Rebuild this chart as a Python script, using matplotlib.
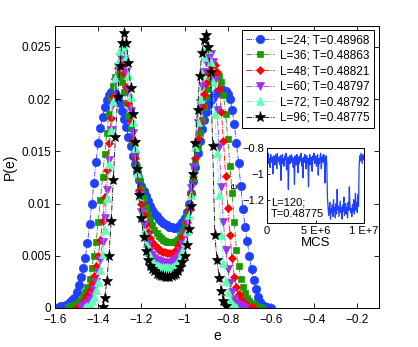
import numpy as np
import matplotlib
matplotlib.use('Agg')
import matplotlib.pyplot as plt

plt.rcParams['font.family'] = ['Liberation Sans', 'DejaVu Sans']

# energy grid (e per site), shared by all curves
e_grid = [-1.60, -1.59, -1.58, -1.57, -1.56, -1.55, -1.54, -1.53, -1.52, -1.51,
          -1.50, -1.49, -1.48, -1.47, -1.46, -1.45, -1.44, -1.43, -1.42, -1.41,
          -1.40, -1.39, -1.38, -1.37, -1.36, -1.35, -1.34, -1.33, -1.32, -1.31,
          -1.30, -1.29, -1.28, -1.27, -1.26, -1.25, -1.24, -1.23, -1.22, -1.21,
          -1.20, -1.19, -1.18, -1.17, -1.16, -1.15, -1.14, -1.13, -1.12, -1.11,
          -1.10, -1.09, -1.08, -1.07, -1.06, -1.05, -1.04, -1.03, -1.02, -1.01,
          -1.00, -0.99, -0.98, -0.97, -0.96, -0.95, -0.94, -0.93, -0.92, -0.91,
          -0.90, -0.89, -0.88, -0.87, -0.86, -0.85, -0.84, -0.83, -0.82, -0.81,
          -0.80, -0.79, -0.78, -0.77, -0.76, -0.75, -0.74, -0.73, -0.72, -0.71,
          -0.70, -0.69, -0.68, -0.67, -0.66, -0.65, -0.64, -0.63, -0.62, -0.61,
          -0.60, -0.59, -0.58]

# P(e) in units of 1e-3, each starting at e_start
start_24 = -1.58
p_24 = [0.1, 0.15, 0.2, 0.3, 0.4, 0.55, 0.75, 1.0, 1.5, 2.2,
        3.0, 3.8, 4.8, 6.2, 8.0, 10.0, 12.0, 14.0, 15.8, 17.2,
        18.3, 19.2, 19.9, 20.4, 20.7, 20.8, 20.6, 20.2, 19.6, 18.9,
        18.1, 17.3, 16.4, 15.5, 14.6, 13.8, 13.0, 12.3, 11.7, 11.2,
        10.7, 10.2, 9.8, 9.4, 9.1, 8.8, 8.5, 8.3, 8.1, 8.0,
        7.9, 7.8, 7.8, 7.7, 7.7, 7.8, 7.9, 8.2, 8.6, 9.2,
        10.0, 11.0, 12.2, 13.5, 14.8, 16.0, 17.1, 18.0, 18.8, 19.4,
        19.9, 20.2, 20.5, 20.7, 20.8, 20.9, 20.9, 20.8, 20.5, 20.0,
        19.0, 17.6, 15.8, 13.9, 11.7, 9.5, 7.8, 6.4, 5.0, 3.7,
        2.7, 1.8, 1.1, 0.6, 0.3, 0.15, 0.07, 0.03, 0.01]

start_36 = -1.54
p_36 = [0.1, 0.15, 0.2, 0.3, 0.45, 0.6, 0.8, 1.1, 1.5, 2.0,
        2.8, 3.8, 5.0, 6.3, 8.2, 10.3, 12.5, 14.7, 16.8, 18.6,
        20.1, 21.3, 22.1, 22.4, 22.2, 21.6, 20.7, 19.6, 18.4, 17.2,
        15.9, 14.7, 13.5, 12.4, 11.4, 10.5, 9.7, 9.0, 8.4, 7.9,
        7.5, 7.2, 6.9, 6.7, 6.5, 6.4, 6.3, 6.3, 6.3, 6.3,
        6.4, 6.6, 6.9, 7.4, 8.0, 8.8, 9.8, 11.0, 12.4, 13.9,
        15.4, 16.8, 18.0, 19.2, 20.2, 21.0, 21.7, 22.1, 22.4, 22.4,
        22.2, 21.6, 20.4, 18.6, 16.2, 13.6, 11.0, 8.2, 5.6, 4.0,
        2.8, 2.0, 1.4, 1.0, 0.7, 0.5, 0.35, 0.2, 0.1, 0.05, 0.02]

start_48 = -1.50
p_48 = [0.1, 0.2, 0.35, 0.6, 0.9, 1.2, 1.7, 2.3, 3.1, 4.0,
        5.0, 6.5, 8.3, 10.6, 13.2, 15.8, 18.2, 20.3, 21.9, 23.0,
        23.5, 23.3, 22.5, 21.2, 19.6, 17.9, 16.1, 14.4, 12.8, 11.3,
        10.0, 8.9, 8.0, 7.3, 6.7, 6.3, 6.0, 5.8, 5.6, 5.5,
        5.4, 5.35, 5.3, 5.3, 5.3, 5.4, 5.6, 5.9, 6.3, 6.8,
        7.3, 8.2, 9.4, 10.9, 12.6, 14.4, 16.2, 17.8, 19.3, 20.5,
        21.5, 22.5, 23.2, 23.5, 23.3, 22.6, 21.0, 18.8, 16.0, 12.6,
        9.6, 7.0, 4.8, 3.0, 2.0, 1.3, 0.9, 0.6, 0.4, 0.25,
        0.12, 0.05, 0.02]

start_60 = -1.48
p_60 = [0.1, 0.2, 0.3, 0.5, 0.8, 1.2, 1.8, 2.5, 3.4, 4.6,
        6.3, 8.6, 11.3, 14.2, 17.0, 19.5, 21.6, 23.1, 24.0, 24.3,
        23.8, 22.6, 20.9, 18.9, 16.8, 14.6, 12.6, 10.8, 9.2, 7.9,
        6.9, 6.1, 5.5, 5.1, 4.8, 4.6, 4.5, 4.4, 4.4, 4.35,
        4.35, 4.35, 4.4, 4.5, 4.7, 5.0, 5.5, 6.1, 7.0, 8.2,
        9.7, 11.5, 13.5, 15.6, 17.7, 19.6, 21.3, 22.6, 23.6, 24.2,
        24.3, 23.6, 21.8, 19.0, 15.4, 11.6, 8.2, 5.6, 3.7, 2.4,
        1.5, 0.9, 0.5, 0.3, 0.15, 0.08, 0.04]

start_72 = -1.46
p_72 = [0.1, 0.2, 0.4, 0.7, 1.1, 1.7, 2.5, 3.6, 5.2, 7.5,
        10.5, 13.8, 17.0, 19.8, 22.0, 23.6, 24.6, 25.2, 25.0, 24.0,
        22.3, 20.2, 17.8, 15.3, 12.9, 10.7, 8.8, 7.3, 6.2, 5.4,
        4.9, 4.5, 4.3, 4.1, 4.0, 3.95, 3.9, 3.9, 3.9, 3.9,
        3.95, 4.0, 4.2, 4.5, 4.9, 5.5, 6.3, 7.4, 8.9, 10.8,
        13.0, 15.4, 17.8, 20.0, 22.4, 24.0, 25.0, 24.8, 23.6, 21.6,
        18.6, 14.8, 10.8, 7.0, 4.3, 2.6, 1.5, 0.8, 0.4, 0.2, 0.1]

start_96 = -1.38
p_96 = [0.1, 1.0, 2.6, 5.0, 8.3, 12.3, 16.4, 20.2, 23.2, 25.4,
        26.3, 25.4, 23.5, 21.1, 18.6, 15.9, 13.3, 10.8, 8.6, 6.8,
        5.5, 4.6, 4.0, 3.7, 3.5, 3.3, 3.2, 3.1, 3.05, 3.0,
        3.0, 3.0, 3.05, 3.15, 3.3, 3.5, 3.9, 4.4, 5.0, 6.0,
        7.6, 9.8, 12.8, 15.8, 19.0, 22.2, 24.4, 25.7, 26.1, 25.0,
        22.6, 15.5, 7.0, 4.6, 2.9, 1.6, 0.7, 0.2]

labels = ['L=24; T=0.48968', 'L=36; T=0.48863', 'L=48; T=0.48821',
          'L=60; T=0.48797', 'L=72; T=0.48792', 'L=96; T=0.48775']
starts = [start_24, start_36, start_48, start_60, start_72, start_96]
curves = [p_24, p_36, p_48, p_60, p_72, p_96]
colors = ['#2040FF', '#1A9A00', '#FF0000', '#A030F0', '#5CFFB4', '#000000']
markers = ['o', 's', 'D', 'v', '^', '*']
msizes = [6, 5, 4.5, 5.5, 5.5, 8]

# inset: energy time series for L=120 (e in units of 0.01)
ts_e = [-86, -90, -84, -92, -88, -95, -85, -89, -91, -87, -100, -86, -90, -93, -85, -88, -96, -84, -91, -89,
        -87, -93, -86, -105, -90, -85, -92, -88, -94, -86, -89, -84, -97, -90, -87, -112, -89, -86, -92, -88,
        -85, -91, -87, -95, -88, -108, -86, -90, -93, -85, -89, -99, -87, -92, -86, -90, -84, -94, -88, -103,
        -87, -91, -85, -89, -96, -86, -92, -88, -110, -90, -85, -93, -87, -91, -98, -86, -89, -84, -92, -88,
        -86, -94, -90, -85, -101, -88, -92, -87, -84, -96, -89, -86, -91, -85, -88, -107, -90, -86, -93,
        -118,
        -125, -132, -128, -122, -135, -127, -130, -124, -133, -120, -129, -126, -134, -123, -131, -112, -128, -125, -133, -127,
        -121, -130, -126, -135, -124, -129, -118, -132, -127, -123, -131, -126, -134, -122, -128, -110, -125, -130, -127, -133,
        -124, -129, -120, -131, -126, -115, -128, -122, -130, -116, -125,
        -95, -86, -90, -84, -88, -92, -85, -89, -87]
mcs_max = 1e7

fig = plt.figure(figsize=(4.18, 3.47), dpi=100)
ax = fig.add_axes([0.1316, 0.1124, 0.775, 0.8127])

e_arr = np.array(e_grid)
for s, p, c, m, ms, lab in zip(starts, curves, colors, markers, msizes, labels):
    i0 = int(np.argmin(np.abs(e_arr - s)))
    x = e_arr[i0:i0 + len(p)]
    y = np.array(p) * 1e-3
    ax.plot(x, y, linestyle='-.', linewidth=0.6, color=c, marker=m,
            markersize=ms, markerfacecolor=c, markeredgecolor=c,
            markeredgewidth=0.5, label=lab)

ax.set_xlim(-1.6, -0.1)
ax.set_ylim(0, 0.027)
ax.set_xticks([-1.6, -1.4, -1.2, -1.0, -0.8, -0.6, -0.4, -0.2])
ax.set_xticklabels(['\u22121.6', '\u22121.4', '\u22121.2', '\u22121', '\u22120.8',
                    '\u22120.6', '\u22120.4', '\u22120.2'])
ax.set_yticks([0, 0.005, 0.01, 0.015, 0.02, 0.025])
ax.set_yticklabels(['0', '0.005', '0.01', '0.015', '0.02', '0.025'])
ax.tick_params(direction='in', top=True, right=True, labelsize=8.5,
               length=3.5, width=0.6, pad=3)
ax.tick_params(axis='x', pad=4.5)
for sp in ax.spines.values():
    sp.set_linewidth(0.7)
ax.set_xlabel('e', fontsize=10, labelpad=2)
ax.set_ylabel('P(e)', fontsize=10, labelpad=3)

leg = ax.legend(loc='upper right', bbox_to_anchor=(0.985, 0.986),
                borderaxespad=0, fontsize=8.5, fancybox=False,
                framealpha=1, edgecolor='black', labelspacing=0.3,
                handlelength=2.4, handletextpad=0.5, borderpad=0.35)
leg.get_frame().set_linewidth(0.7)

# inset
axi = fig.add_axes([0.6388, 0.3573, 0.232, 0.216])
mcs = np.linspace(0, mcs_max, len(ts_e))
axi.plot(mcs, np.array(ts_e) * 0.01, color='#2040FF', linewidth=0.9)
axi.set_xlim(0, mcs_max)
axi.set_ylim(-1.38, -0.8)
axi.set_xticks([0, 5e6, 1e7])
axi.set_xticklabels(['0', '5 E+6', '1 E+7'])
axi.set_yticks([-1.2, -1.0, -0.8])
axi.set_yticklabels(['\u22121.2', '\u22121', '\u22120.8'])
axi.tick_params(direction='in', labelsize=8, length=2.5, width=0.6, pad=2)
for sp in axi.spines.values():
    sp.set_linewidth(0.7)
axi.set_xlabel('MCS', fontsize=9.5, labelpad=1)
axi.set_ylabel('e', fontsize=8, labelpad=2)
axi.text(0.04, 0.06, 'L=120;\nT=0.48775', transform=axi.transAxes,
         fontsize=8, ha='left', va='bottom', linespacing=1.1)

fig.savefig('out.png', dpi=100)
